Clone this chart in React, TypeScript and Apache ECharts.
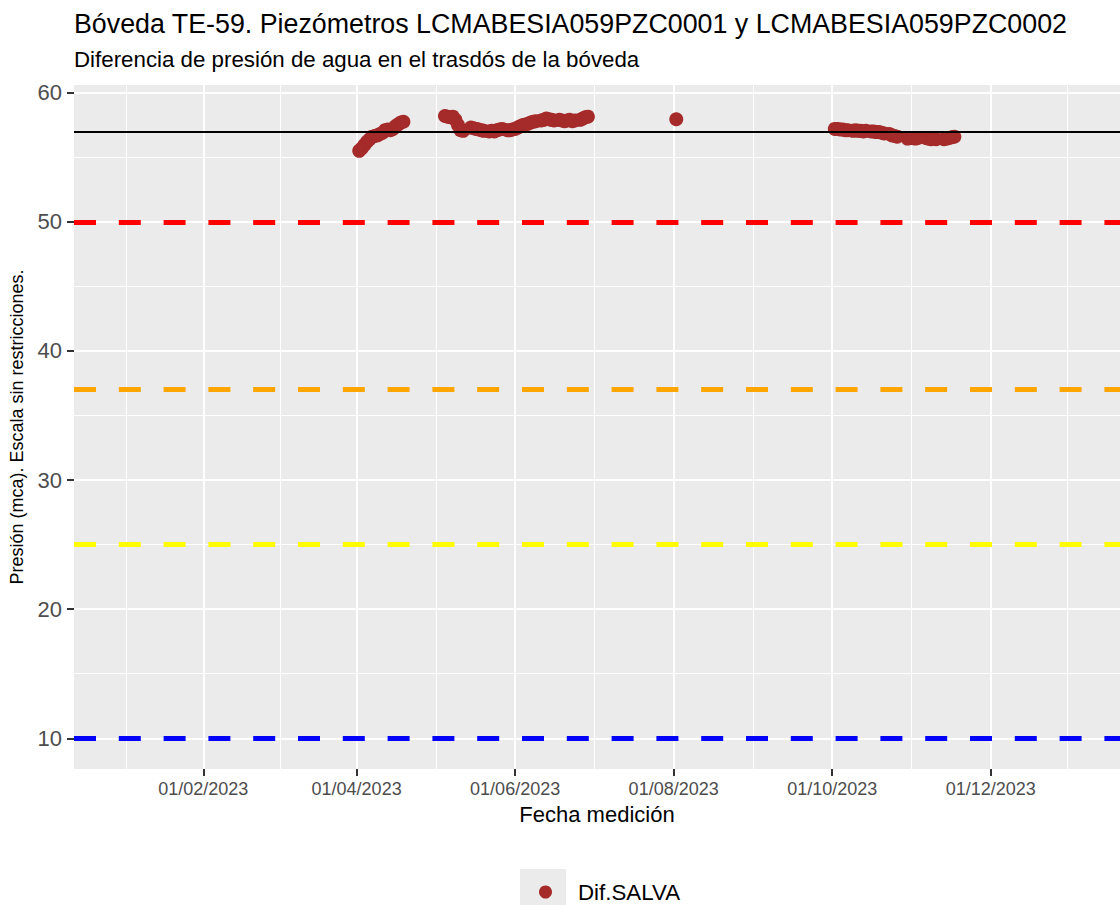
import React, { useEffect, useRef } from "react";
import * as echarts from "echarts";

const FONT = "'Liberation Sans', Arial, Helvetica, sans-serif";

const titleText = "Bóveda TE-59. Piezómetros LCMABESIA059PZC0001 y LCMABESIA059PZC0002";
const subtitleText = "Diferencia de presión de agua en el trasdós de la bóveda";
const xTitle = "Fecha medición";
const yTitle = "Presión (mca). Escala sin restricciones.";
const seriesName = "Dif.SALVA";

// measurement dates and pressure difference values (mca)
const dates = [
  "2023-04-02", "2023-04-03", "2023-04-04", "2023-04-05", "2023-04-06", "2023-04-07",
  "2023-04-08", "2023-04-09", "2023-04-10", "2023-04-11", "2023-04-12", "2023-04-13",
  "2023-04-14", "2023-04-15", "2023-04-16", "2023-04-17", "2023-04-18", "2023-04-19",
  "2023-05-05", "2023-05-06", "2023-05-07", "2023-05-08", "2023-05-09", "2023-05-10",
  "2023-05-11", "2023-05-12", "2023-05-15", "2023-05-16", "2023-05-17", "2023-05-18",
  "2023-05-19", "2023-05-20", "2023-05-22", "2023-05-23", "2023-05-24", "2023-05-25",
  "2023-05-26", "2023-05-27", "2023-05-29", "2023-05-30", "2023-05-31", "2023-06-01",
  "2023-06-02", "2023-06-03", "2023-06-04", "2023-06-05", "2023-06-06", "2023-06-07",
  "2023-06-08", "2023-06-09", "2023-06-11", "2023-06-12", "2023-06-13", "2023-06-14",
  "2023-06-15", "2023-06-16", "2023-06-18", "2023-06-19", "2023-06-20", "2023-06-21",
  "2023-06-22", "2023-06-23", "2023-06-24", "2023-06-26", "2023-06-27", "2023-06-28",
  "2023-06-29",
  "2023-08-02",
  "2023-10-02", "2023-10-03", "2023-10-04", "2023-10-05", "2023-10-06", "2023-10-07",
  "2023-10-09", "2023-10-10", "2023-10-11", "2023-10-12", "2023-10-13", "2023-10-14",
  "2023-10-16", "2023-10-17", "2023-10-18", "2023-10-19", "2023-10-20", "2023-10-21",
  "2023-10-23", "2023-10-24", "2023-10-25", "2023-10-26", "2023-10-30", "2023-10-31",
  "2023-11-01", "2023-11-02", "2023-11-03", "2023-11-06", "2023-11-07", "2023-11-08",
  "2023-11-09", "2023-11-10", "2023-11-13", "2023-11-14", "2023-11-15", "2023-11-16",
  "2023-11-17",
];
const values = [
  55.5, 55.7, 55.95, 56.2, 56.4, 56.6,
  56.65, 56.7, 56.8, 56.9, 57.1, 57.15,
  57.1, 57.2, 57.4, 57.55, 57.7, 57.75,
  58.2, 58.15, 58.1, 58.15, 57.9, 57.5,
  57.1, 57.05, 57.3, 57.25, 57.2, 57.15,
  57.1, 57.05, 57.0, 57.05, 57.0, 57.1,
  57.15, 57.2, 57.1, 57.1, 57.15, 57.2,
  57.3, 57.4, 57.5, 57.55, 57.6, 57.7,
  57.75, 57.8, 57.85, 57.9, 58.0, 57.95,
  57.9, 57.85, 57.9, 57.85, 57.8, 57.85,
  57.9, 57.8, 57.85, 57.9, 58.0, 58.1,
  58.15,
  57.95,
  57.2, 57.2, 57.15, 57.15, 57.1, 57.1,
  57.05, 57.1, 57.05, 57.05, 57.0, 57.05,
  57.0, 57.0, 56.95, 56.95, 56.9, 56.85,
  56.8, 56.7, 56.65, 56.6, 56.45, 56.5,
  56.5, 56.45, 56.5, 56.5, 56.45, 56.4,
  56.45, 56.4, 56.4, 56.45, 56.5, 56.55,
  56.6,
];

// threshold lines
const thresholdValues = [57, 50, 37, 25, 10];
const thresholdColors = ["#000000", "#ff0000", "#ffa500", "#ffff00", "#0000ff"];
const thresholdDashed = [false, true, true, true, true];

// axis ticks / grid
const xMajorTicks = ["2023-02-01", "2023-04-01", "2023-06-01", "2023-08-01", "2023-10-01", "2023-12-01"];
const xMinorTicks = [
  "2023-01-02T12:00:00Z", "2023-03-02T12:00:00Z", "2023-05-01T12:00:00Z", "2023-07-01T12:00:00Z",
  "2023-08-31T12:00:00Z", "2023-10-31T12:00:00Z", "2023-12-30T12:00:00Z",
];
const yMajorTicks = [10, 20, 30, 40, 50, 60];
const yMinorTicks = [15, 25, 35, 45, 55];
const xRange = ["2022-12-13T06:00:00Z", "2024-01-19T18:00:00Z"];
const yRange = [7.62, 60.6];

const ts = (s: string) => Date.parse(s.length === 10 ? s + "T00:00:00Z" : s);
const fmtDate = (v: number) => {
  const d = new Date(v);
  const dd = String(d.getUTCDate()).padStart(2, "0");
  const mm = String(d.getUTCMonth() + 1).padStart(2, "0");
  return `${dd}/${mm}/${d.getUTCFullYear()}`;
};

export default function App() {
  const ref = useRef<HTMLDivElement>(null);
  useEffect(() => {
    document.body.style.margin = "0";
    if (!ref.current) return;
    const chart = echarts.init(ref.current, null, { renderer: "svg" });
    const gridLineData: any[] = [
      ...xMajorTicks.map((d) => ({ xAxis: ts(d), lineStyle: { color: "#ffffff", width: 2, type: "solid" } })),
      ...xMinorTicks.map((d) => ({ xAxis: ts(d), lineStyle: { color: "#ffffff", width: 1, type: "solid" } })),
      ...yMajorTicks.map((v) => ({ yAxis: v, lineStyle: { color: "#ffffff", width: 2, type: "solid" } })),
      ...yMinorTicks.map((v) => ({ yAxis: v, lineStyle: { color: "#ffffff", width: 1, type: "solid" } })),
    ];
    const thresholdData: any[] = thresholdValues.map((v, i) => ({
      yAxis: v,
      lineStyle: {
        color: thresholdColors[i],
        width: thresholdDashed[i] ? 5 : 2,
        type: thresholdDashed[i] ? [22, 22.8] : "solid",
      },
    }));
    chart.setOption({
      animation: false,
      textStyle: { fontFamily: FONT },
      title: [
        {
          text: titleText,
          left: 74,
          top: 10,
          padding: 0,
          textStyle: { fontSize: 26.8, fontWeight: "normal", color: "#000", fontFamily: FONT },
        },
        {
          text: subtitleText,
          left: 74,
          top: 48,
          padding: 0,
          textStyle: { fontSize: 22.3, fontWeight: "normal", color: "#000", fontFamily: FONT },
        },
      ],
      grid: {
        left: 74,
        top: 85,
        width: 1046,
        height: 684,
        show: true,
        backgroundColor: "#ebebeb",
        borderWidth: 0,
      },
      legend: {
        data: [seriesName],
        left: 534,
        top: 876,
        icon: "circle",
        itemWidth: 55,
        itemHeight: 13,
        textStyle: { fontSize: 22.3, color: "#000", fontFamily: FONT },
      },
      graphic: [
        { type: "rect", shape: { x: 520, y: 869, width: 46, height: 46 }, style: { fill: "#ebebeb" }, z: 0, silent: true },
      ],
      xAxis: {
        type: "value",
        min: ts(xRange[0]),
        max: ts(xRange[1]),
        name: xTitle,
        nameLocation: "middle",
        nameGap: 34,
        nameTextStyle: { fontSize: 22, color: "#000", fontFamily: FONT },
        axisLine: { show: false },
        axisTick: { show: true, length: 7, lineStyle: { color: "#333333", width: 2 }, customValues: xMajorTicks.map(ts) },
        axisLabel: {
          customValues: xMajorTicks.map(ts),
          formatter: (v: number) => fmtDate(v),
          fontSize: 18,
          color: "#4d4d4d",
          margin: 11,
          fontFamily: FONT,
        },
        splitLine: { show: false },
      },
      yAxis: {
        type: "value",
        min: yRange[0],
        max: yRange[1],
        name: yTitle,
        nameLocation: "middle",
        nameGap: 48,
        nameTextStyle: { fontSize: 18, color: "#000", fontFamily: FONT },
        axisLine: { show: false },
        axisTick: { show: true, length: 7, lineStyle: { color: "#333333", width: 2 }, customValues: yMajorTicks },
        axisLabel: {
          customValues: yMajorTicks,
          fontSize: 22,
          color: "#4d4d4d",
          margin: 12,
          fontFamily: FONT,
        },
        splitLine: { show: false },
      },
      series: [
        {
          name: "grid",
          type: "line",
          data: [],
          silent: true,
          z: 1,
          markLine: {
            z: 1,
            silent: true,
            symbol: ["none", "none"],
            label: { show: false },
            emphasis: { disabled: true },
            data: gridLineData,
          },
        },
        {
          name: seriesName,
          type: "scatter",
          z: 2,
          symbolSize: 14,
          itemStyle: { color: "#a52a2a", opacity: 1 },
          data: dates.map((d, i) => [ts(d), values[i]]),
        },
        {
          name: "thresholds",
          type: "line",
          data: [],
          silent: true,
          z: 3,
          markLine: {
            z: 10,
            silent: true,
            symbol: ["none", "none"],
            label: { show: false },
            emphasis: { disabled: true },
            data: thresholdData,
          },
        },
      ],
    });
    return () => chart.dispose();
  }, []);
  return <div ref={ref} style={{ width: 1120, height: 905 }} />;
}
